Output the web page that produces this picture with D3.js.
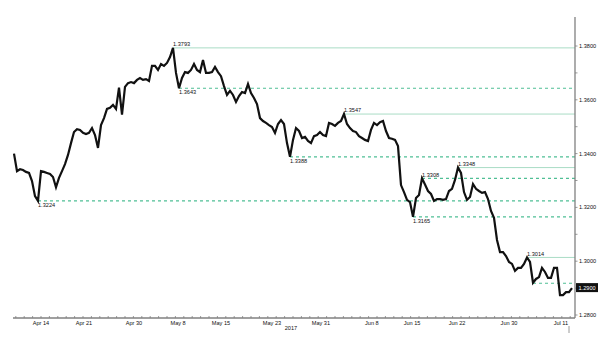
<!DOCTYPE html>
<html>
<meta charset="utf-8">
<title>USD/CAD intraday</title>
<style>
  body { margin: 0; background: #fff; }
  .lbl { font-family: "Liberation Sans", Arial, sans-serif; font-size: 5.6px; fill: #111; }
  .axis-line { stroke: #808080; stroke-width: 1.3; }
  .tick { stroke: #808080; stroke-width: 0.8; }
  .price { fill: none; stroke: #111; stroke-width: 2.2; stroke-linejoin: miter; }
  .lvl-solid { stroke: #a9dcc5; stroke-width: 1; }
  .lvl-dash { stroke: #4fbf95; stroke-width: 1.2; stroke-dasharray: 3,3; }
</style>
<body>
<div id="chart"></div>
<script src="https://d3js.org/d3.v7.min.js"></script>
<script>

// closing prices, one per third of a trading session, Apr 10 - Jul 12 2017
const closes = [
  1.3400, 1.3335, 1.3342, 1.3339, 1.3332, 1.3328, 1.3298, 1.3242, 1.3224, 1.3335,
  1.3332, 1.3328, 1.3324, 1.3313, 1.3275, 1.3310, 1.3335, 1.3361, 1.3395, 1.3439,
  1.3480, 1.3491, 1.3488, 1.3477, 1.3473, 1.3477, 1.3495, 1.3469, 1.3421, 1.3506,
  1.3532, 1.3566, 1.3570, 1.3581, 1.3566, 1.3645, 1.3545, 1.3648, 1.3662, 1.3666,
  1.3662, 1.3674, 1.3681, 1.3674, 1.3677, 1.3670, 1.3726, 1.3726, 1.3711, 1.3733,
  1.3726, 1.3737, 1.3759, 1.3793, 1.3700, 1.3643, 1.3681, 1.3703, 1.3700, 1.3711,
  1.3733, 1.3711, 1.3703, 1.3748, 1.3700, 1.3700, 1.3703, 1.3722, 1.3703, 1.3688,
  1.3651, 1.3618, 1.3633, 1.3618, 1.3592, 1.3614, 1.3629, 1.3625, 1.3659, 1.3625,
  1.3607, 1.3584, 1.3532, 1.3521, 1.3514, 1.3506, 1.3499, 1.3477, 1.3510, 1.3525,
  1.3510, 1.3439, 1.3388, 1.3451, 1.3495, 1.3484, 1.3458, 1.3462, 1.3447, 1.3439,
  1.3465, 1.3469, 1.3480, 1.3469, 1.3465, 1.3514, 1.3510, 1.3503, 1.3514, 1.3521,
  1.3547, 1.3510, 1.3495, 1.3484, 1.3480, 1.3465, 1.3458, 1.3451, 1.3447, 1.3488,
  1.3514, 1.3506, 1.3517, 1.3521, 1.3484, 1.3458, 1.3455, 1.3451, 1.3428, 1.3283,
  1.3257, 1.3228, 1.3220, 1.3165, 1.3235, 1.3246, 1.3308, 1.3285, 1.3261, 1.3250,
  1.3224, 1.3231, 1.3231, 1.3228, 1.3231, 1.3261, 1.3269, 1.3302, 1.3348, 1.3328,
  1.3257, 1.3228, 1.3239, 1.3287, 1.3269, 1.3261, 1.3254, 1.3257, 1.3231, 1.3187,
  1.3161, 1.3079, 1.3034, 1.3034, 1.3019, 1.2997, 1.2990, 1.2964, 1.2975, 1.2975,
  1.2990, 1.3014, 1.2997, 1.2920, 1.2934, 1.2941, 1.2975, 1.2960, 1.2938, 1.2938,
  1.2975, 1.2975, 1.2874, 1.2874, 1.2885, 1.2885, 1.2900
];

const dateLabels = ['Apr 14', 'Apr 21', 'Apr 30', 'May 8', 'May 15', 'May 23', 'May 31', 'Jun 8', 'Jun 15', 'Jun 22', 'Jun 30', 'Jul 11'];
const datePos = [9, 23.3, 40, 54.7, 69, 86, 102.3, 119.3, 132.7, 147.7, 165, 182.3];
const yearLabel = '2017';
const yearPos = 92.3;

const priceTicks = [1.28, 1.30, 1.32, 1.34, 1.36, 1.38];
const priceMinor = [1.29, 1.31, 1.33, 1.35, 1.37];

// horizontal reference levels (value, index where they start)
const solidLevels = [1.3793, 1.3547, 1.3348, 1.3014];
const solidFrom = [53, 110, 148, 171];
const dashedLevels = [1.3643, 1.3388, 1.3308, 1.3224, 1.3165, 1.2918];
const dashedFrom = [55, 92, 136, 8, 133, 173];
const dashedNamed = [true, true, true, true, true, false];

const lastPrice = 1.2900;

const W = 600, H = 340;
const svg = d3.select('#chart').append('svg')
  .attr('width', W)
  .attr('height', H);

const x = d3.scaleLinear().domain([0, closes.length - 1]).range([14, 572]);
const y = d3.scaleLinear().domain([1.28, 1.38]).range([315, 46]);
const axisX = 575, axisY = 318;

const fmt = d3.format('.4f');

// levels
const isHigh = i => closes[i] >= (closes[i - 1] ?? -1) && closes[i] >= (closes[i + 1] ?? -1);

function drawLevels(vals, from, cls, named) {
  vals.forEach((v, k) => {
    svg.append('line')
      .attr('class', cls)
      .attr('x1', x(from[k])).attr('x2', axisX)
      .attr('y1', y(v)).attr('y2', y(v));
    if (named && !named[k]) return;
    const up = isHigh(from[k]);
    svg.append('text')
      .attr('class', 'lbl')
      .attr('x', x(from[k]))
      .attr('y', up ? y(v) - 1.8 : y(v) + 6)
      .text(fmt(v));
  });
}
drawLevels(solidLevels, solidFrom, 'lvl-solid');
drawLevels(dashedLevels, dashedFrom, 'lvl-dash', dashedNamed);

// price line
const line = d3.line()
  .x((d, i) => x(i))
  .y(d => y(d));

svg.append('path')
  .datum(closes)
  .attr('class', 'price')
  .attr('d', line);

// x axis
svg.append('line').attr('class', 'axis-line')
  .attr('x1', 13).attr('x2', axisX).attr('y1', axisY).attr('y2', axisY);

const dayStep = 2.8;
svg.append('g').selectAll('line')
  .data(d3.range(datePos[0] % dayStep, closes.length, dayStep))
  .enter().append('line')
  .attr('class', 'tick')
  .attr('x1', d => x(d)).attr('x2', d => x(d))
  .attr('y1', axisY - 2).attr('y2', axisY);

svg.append('g').selectAll('text')
  .data(dateLabels)
  .enter().append('text')
  .attr('class', 'lbl')
  .attr('x', (d, i) => x(datePos[i]))
  .attr('y', 325)
  .attr('text-anchor', 'middle')
  .text(d => d);

svg.append('text')
  .attr('class', 'lbl')
  .attr('x', x(yearPos))
  .attr('y', 330)
  .attr('text-anchor', 'middle')
  .text(yearLabel);

// marker under the last bar
svg.append('line').attr('class', 'tick')
  .attr('x1', x(closes.length - 2)).attr('x2', x(closes.length - 2))
  .attr('y1', 326).attr('y2', 333);

// right price axis
svg.append('line').attr('class', 'axis-line')
  .attr('x1', axisX).attr('x2', axisX).attr('y1', 17).attr('y2', axisY);

svg.append('g').selectAll('line')
  .data(priceTicks.concat(priceMinor))
  .enter().append('line')
  .attr('class', 'tick')
  .attr('x1', axisX).attr('x2', axisX + 2.5)
  .attr('y1', d => y(d)).attr('y2', d => y(d));

svg.append('g').selectAll('text')
  .data(priceTicks)
  .enter().append('text')
  .attr('class', 'lbl')
  .attr('x', axisX + 4)
  .attr('y', d => y(d) + 2)
  .text(d => fmt(d));

// last price tag
const tag = svg.append('g').attr('transform', `translate(${axisX + 1},${y(lastPrice)})`);
tag.append('rect')
  .attr('x', 0).attr('y', -5).attr('width', 22).attr('height', 9)
  .attr('fill', '#111');
tag.append('text')
  .attr('class', 'lbl')
  .attr('x', 2.5).attr('y', 2)
  .style('fill', '#fff')
  .text(fmt(lastPrice));

</script>
</body>
</html>
